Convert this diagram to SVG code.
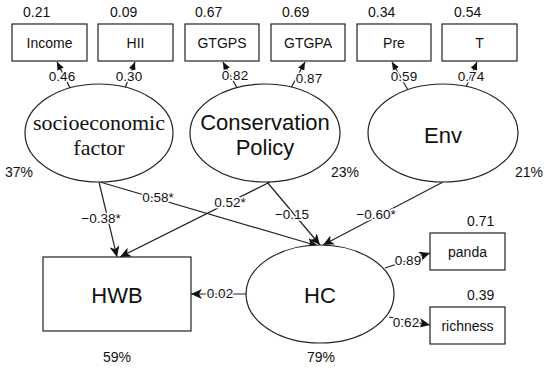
<svg xmlns="http://www.w3.org/2000/svg" width="550" height="369" viewBox="0 0 550 369">
<style>
.box{fill:#fff;stroke:#222;stroke-width:1.2}
.ell{fill:#fff;stroke:#222;stroke-width:1.2}
.sm{font-family:"Liberation Sans",Arial,sans-serif;font-size:14px;fill:#111}
.lb{font-family:"Liberation Sans",Arial,sans-serif;font-size:13.5px;fill:#111;text-anchor:middle;stroke:#fff;stroke-width:3;paint-order:stroke;stroke-linejoin:round}
.big{font-family:"Liberation Sans",Arial,sans-serif;font-size:22px;fill:#111;text-anchor:middle}
.ser{font-family:"Liberation Serif","Times New Roman",serif;font-size:22px;fill:#111;text-anchor:middle}
.mid{text-anchor:middle}
.ln{fill:none;stroke:#222;stroke-width:1.2}
</style>
<defs>
<marker id="ah" markerUnits="userSpaceOnUse" markerWidth="12" markerHeight="10" refX="11" refY="5" orient="auto">
<path d="M0,0 L11,5 L0,10 L3,5 z" fill="#111"/>
</marker>
<marker id="as" markerUnits="userSpaceOnUse" markerWidth="8" markerHeight="7" refX="8" refY="3.5" orient="auto">
<path d="M0,0 L8,3.5 L0,7 z" fill="#111"/>
</marker>
</defs>
<rect width="550" height="369" fill="#fff"/>
<g id="connectors">
<line class="ln" x1="70" y1="88" x2="57" y2="62" marker-end="url(#as)"/>
<line class="ln" x1="125" y1="88" x2="135" y2="62" marker-end="url(#as)"/>
<line class="ln" x1="237" y1="88" x2="223" y2="62" marker-end="url(#as)"/>
<line class="ln" x1="291" y1="88" x2="305" y2="62" marker-end="url(#as)"/>
<line class="ln" x1="408" y1="90" x2="392" y2="62" marker-end="url(#as)"/>
<line class="ln" x1="466" y1="87" x2="477" y2="62" marker-end="url(#as)"/>
<line class="ln" x1="99" y1="182" x2="117" y2="257" marker-end="url(#ah)"/>
<line class="ln" x1="100" y1="182" x2="318" y2="246" marker-end="url(#ah)"/>
<line class="ln" x1="270" y1="182" x2="120" y2="257" marker-end="url(#ah)"/>
<line class="ln" x1="267" y1="182" x2="320" y2="245" marker-end="url(#ah)"/>
<line class="ln" x1="443" y1="182" x2="323" y2="245" marker-end="url(#ah)"/>
<line class="ln" x1="246" y1="294" x2="191" y2="294" marker-end="url(#ah)"/>
<line class="ln" x1="385" y1="268" x2="430" y2="253" marker-end="url(#ah)"/>
<line class="ln" x1="389" y1="317" x2="430" y2="325" marker-end="url(#ah)"/>
<text class="lb" x="62" y="81">0.46</text>
<text class="lb" x="129" y="81">0.30</text>
<text class="lb" x="235" y="80">0.82</text>
<text class="lb" x="309" y="83">0.87</text>
<text class="lb" x="404" y="81">0.59</text>
<text class="lb" x="471" y="81">0.74</text>
<text class="lb" x="101" y="223">−0.38*</text>
<text class="lb" x="158" y="202">0.58*</text>
<text class="lb" x="230" y="207">0.52*</text>
<text class="lb" x="292" y="219">−0.15</text>
<text class="lb" x="376" y="219">−0.60*</text>
<text class="lb" x="220" y="298">0.02</text>
<text class="lb" x="408" y="265">0.89</text>
<text class="lb" x="406" y="327">0.62</text>
</g>
<g id="income"><rect class="box" x="12" y="24" width="75" height="37"/><text class="sm mid" x="49.5" y="48">Income</text><text class="sm" x="23" y="17">0.21</text></g>
<g id="hii"><rect class="box" x="98" y="24" width="75" height="37"/><text class="sm mid" x="135.5" y="48">HII</text><text class="sm" x="110" y="17">0.09</text></g>
<g id="gtgps"><rect class="box" x="185" y="24" width="74" height="37"/><text class="sm mid" x="222" y="48">GTGPS</text><text class="sm" x="195" y="17">0.67</text></g>
<g id="gtgpa"><rect class="box" x="271" y="24" width="74" height="37"/><text class="sm mid" x="308" y="48">GTGPA</text><text class="sm" x="282" y="17">0.69</text></g>
<g id="pre"><rect class="box" x="357" y="24" width="74" height="37"/><text class="sm mid" x="394" y="48">Pre</text><text class="sm" x="368" y="17">0.34</text></g>
<g id="t"><rect class="box" x="442" y="24" width="75" height="37"/><text class="sm mid" x="479.5" y="48">T</text><text class="sm" x="454" y="17">0.54</text></g>
<g id="socio"><ellipse class="ell" cx="99" cy="133" rx="74" ry="49"/><text class="ser" x="99" y="130">socioeconomic</text><text class="ser" x="99" y="155">factor</text><text class="sm" x="5" y="177">37%</text></g>
<g id="policy"><ellipse class="ell" cx="265" cy="133" rx="75" ry="49"/><text class="big" x="265" y="130">Conservation</text><text class="big" x="265" y="155">Policy</text><text class="sm" x="331" y="177">23%</text></g>
<g id="env"><ellipse class="ell" cx="443" cy="133" rx="75" ry="49"/><text class="big" x="443" y="143">Env</text><text class="sm" x="515" y="177">21%</text></g>
<g id="hwb"><rect class="box" x="43" y="257" width="148" height="74"/><text class="big" x="117" y="303">HWB</text><text class="sm" x="103" y="362">59%</text></g>
<g id="hc"><ellipse class="ell" cx="320" cy="294" rx="74" ry="49"/><text class="big" x="320" y="303">HC</text><text class="sm" x="307" y="362">79%</text></g>
<g id="panda"><rect class="box" x="430" y="233" width="75" height="37"/><text class="sm mid" x="467.5" y="257">panda</text><text class="sm" x="467" y="226">0.71</text></g>
<g id="richness"><rect class="box" x="430" y="307" width="75" height="37"/><text class="sm mid" x="467.5" y="331">richness</text><text class="sm" x="467" y="300">0.39</text></g>
</svg>
